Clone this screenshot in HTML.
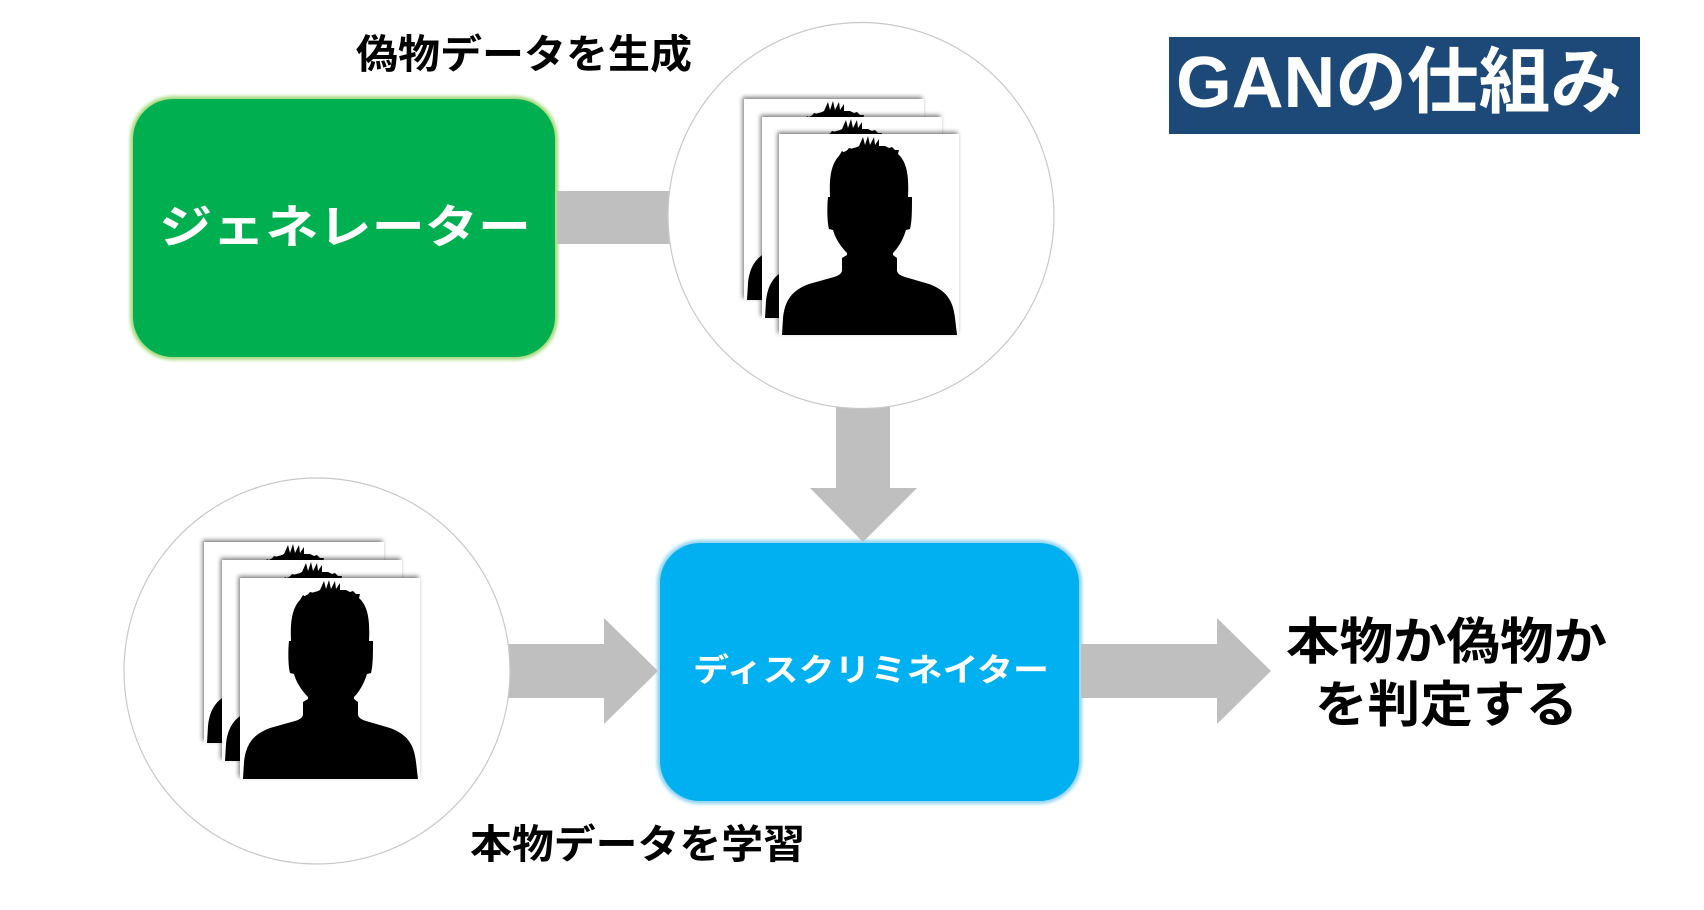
<!DOCTYPE html>
<html>
<head>
<meta charset="utf-8">
<style>
  html,body{margin:0;padding:0;background:#fff;}
  body{width:1704px;height:910px;overflow:hidden;}
  svg{display:block;}
  text{font-family:"Liberation Sans","Noto Sans CJK JP",sans-serif;font-weight:700;}
</style>
</head>
<body>
<svg width="1704" height="910" viewBox="0 0 1704 910" xmlns="http://www.w3.org/2000/svg">
  <defs>
    <filter id="sh" x="-20%" y="-20%" width="140%" height="140%">
      <feDropShadow dx="-1.5" dy="-2" stdDeviation="2" flood-color="#000" flood-opacity="0.5"/>
    </filter>
    <filter id="glow" x="-10%" y="-10%" width="120%" height="120%">
      <feGaussianBlur stdDeviation="1.6"/>
    </filter>
    <g id="card">
      <rect x="0" y="0" width="180" height="201" fill="#fff" filter="url(#sh)"/>
      <path fill="#000" d="M3,201 L4,184 C6,165 14,156 30,150 L55,143 Q62,141 63,137 L63,124 L68,121 L68,119 C62,113 56,104 54,96 L50,95 C48,88 48,72 49,63 L51,63 C50,40 53,28 62,20 C70,14 80,12 91,12 C103,12 113,15 120,21 C128,29 130,42 129,63 L133,63 C133,75 133,88 131,95 L127,96 C124,106 119,114 114,119 L114,121 L118,124 L118,137 Q119,141 126,143 L150,150 C166,156 174,165 176,184 L178,201 Z"/>
      <path fill="#000" d="M60,22 L63,17 L66,19 L70,14 L74,15 L80,12 L84,3 L86,11 L89,2 L91,11 L95,3 L96,11 L100,5 L100,12 L106,12 L110,14 L113,13 L116,16 L120,16 L119,20 L122,24 L100,18 L80,18 Z"/>
    </g>
  </defs>

  <rect x="0" y="0" width="1704" height="910" fill="#fff"/>

  <!-- Generator box -->
  <rect x="130" y="96" width="428" height="264" rx="43" fill="#A8DA7E" filter="url(#glow)"/>
  <rect x="133" y="99" width="422" height="258" rx="40" fill="#00B050"/>

  <!-- Discriminator box -->
  <rect x="657" y="540" width="425" height="264" rx="43" fill="#92D4F3" filter="url(#glow)"/>
  <rect x="660" y="543" width="419" height="258" rx="40" fill="#00B0F0"/>

  <!-- Connectors -->
  <rect x="557" y="191" width="115" height="53" fill="#BFBFBF"/>
  <polygon fill="#BFBFBF" points="836,398 890,398 890,488 917,488 863,542 810,488 836,488"/>
  <polygon fill="#BFBFBF" points="500,644 604,644 604,618 658,671 604,724 604,698 500,698"/>
  <polygon fill="#BFBFBF" points="1081,644 1217,644 1217,618 1271,671 1217,724 1217,698 1081,698"/>

  <!-- Top circle with fake data -->
  <circle cx="861" cy="215.5" r="193" fill="#fff" stroke="#C8C8C8" stroke-width="1.2"/>
  <use href="#card" transform="translate(744,99)"/>
  <use href="#card" transform="translate(762,117)"/>
  <use href="#card" transform="translate(779,134)"/>

  <!-- Bottom circle with real data -->
  <circle cx="317" cy="671" r="193" fill="#fff" stroke="#C8C8C8" stroke-width="1.2"/>
  <use href="#card" transform="translate(204,542)"/>
  <use href="#card" transform="translate(222,560)"/>
  <use href="#card" transform="translate(240,578)"/>

  <!-- Title -->
  <rect x="1169" y="37" width="471" height="97" fill="#1C4978"/>
  <text x="1176" y="107" font-size="72" fill="#fff" textLength="446" lengthAdjust="spacingAndGlyphs">GANの仕組み</text>

  <!-- Labels -->
  <text x="356" y="68" font-size="40" fill="#000" textLength="336" lengthAdjust="spacingAndGlyphs">偽物データを生成</text>
  <text x="470" y="858" font-size="40" fill="#000" textLength="335" lengthAdjust="spacingAndGlyphs">本物データを学習</text>

  <text x="159" y="243" font-size="46" fill="#fff" textLength="372" lengthAdjust="spacingAndGlyphs">ジェネレーター</text>
  <text x="693" y="681" font-size="32" fill="#fff" textLength="356" lengthAdjust="spacingAndGlyphs">ディスクリミネイター</text>

  <text x="1286" y="659" font-size="50" fill="#000" textLength="321" lengthAdjust="spacingAndGlyphs">本物か偽物か</text>
  <text x="1315" y="722" font-size="50" fill="#000" textLength="263" lengthAdjust="spacingAndGlyphs">を判定する</text>
</svg>
</body>
</html>
